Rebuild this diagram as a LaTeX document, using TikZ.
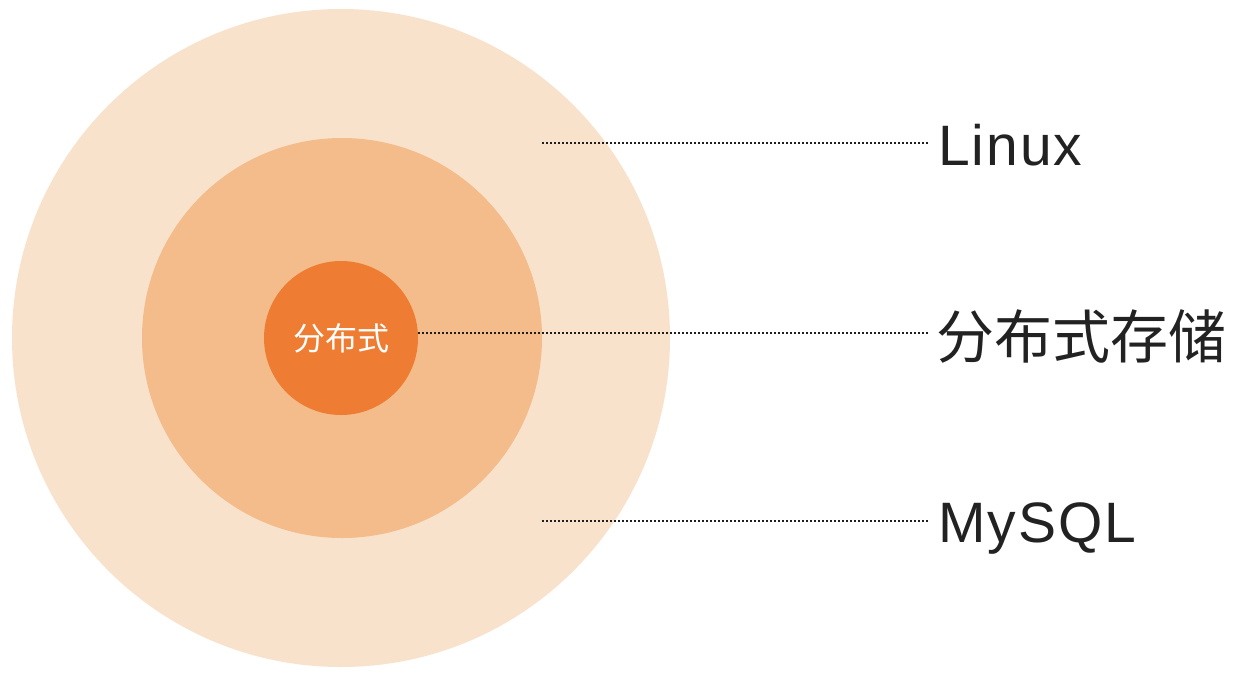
\documentclass[tikz,border=0pt]{standalone}
\usepackage{fontspec}
\setmainfont{Liberation Sans}
\newfontfamily\cjk{Noto Sans CJK SC}
\newfontfamily\latinlbl[LetterSpace=3.5]{Liberation Sans}
\definecolor{outerc}{HTML}{F9E2CB}
\definecolor{midc}{HTML}{F3BC8A}
\definecolor{innerc}{HTML}{EE7D33}
\definecolor{txtc}{HTML}{222222}
\definecolor{dotc}{HTML}{1E1E1E}
\begin{document}
\begin{tikzpicture}[x=1pt,y=-1pt,
  ring/.style={circle,inner sep=0pt,draw=none},
  lbl/.style={inner sep=0pt,text=txtc,font=\latinlbl\fontsize{57}{60}\selectfont},
  leader/.style={draw=dotc,line width=2pt,dash pattern=on 2pt off 2pt}]
\fill[white] (0,0) rectangle (1242,681);
\useasboundingbox (0,0) rectangle (1242,681);
\node[ring,fill=outerc,minimum size=658pt] (outer) at (341,338) {};
\node[ring,fill=midc,minimum size=400pt] (mid) at (342,338) {};
\node[ring,fill=innerc,minimum size=154pt,text=white,font=\cjk\fontsize{32}{34}\selectfont] (inner) at (341,338) {分布式};
\node[lbl,anchor=base west] (linux) at (938,165) {Linux};
\node[lbl,anchor=base west,font=\cjk\fontsize{58}{60}\selectfont] (dist) at (936,358) {分布式存储};
\node[lbl,anchor=base west] (mysql) at (938,542) {MySQL};
\coordinate (l1) at (542,143);
\coordinate (l2) at (418,333);
\coordinate (l3) at (542,521);
\coordinate (r1) at (929,143);
\coordinate (r2) at (929,333);
\coordinate (r3) at (929,521);
\draw[leader] (l1) -- (r1);
\draw[leader] (l2) -- (r2);
\draw[leader] (l3) -- (r3);
\end{tikzpicture}
\end{document}
